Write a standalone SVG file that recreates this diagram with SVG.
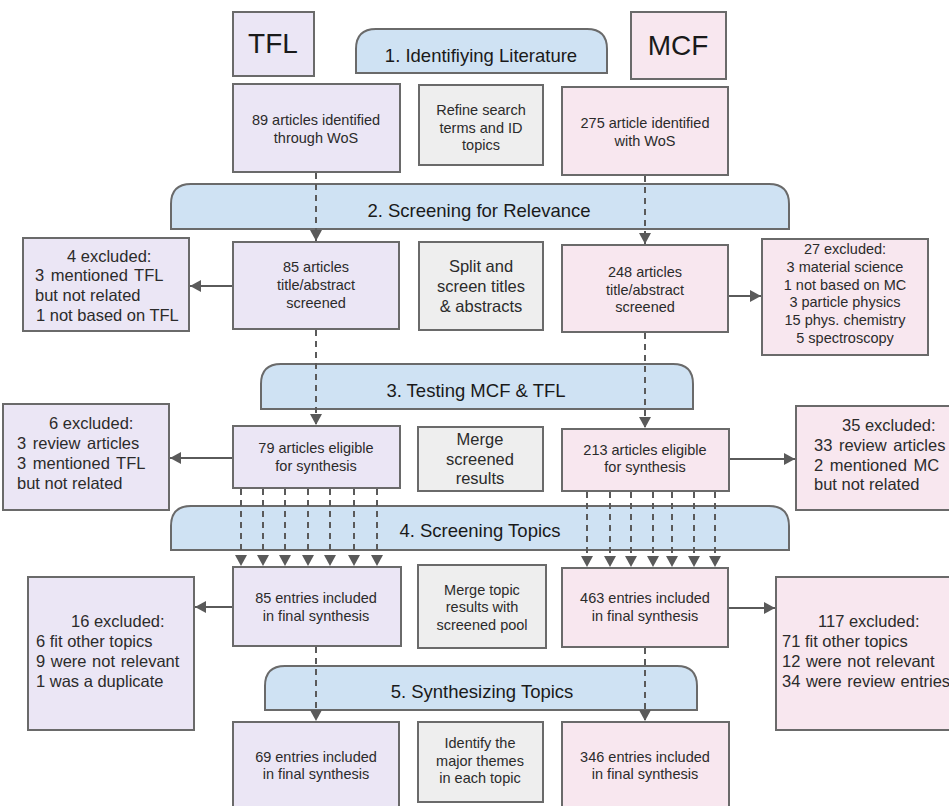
<svg xmlns="http://www.w3.org/2000/svg" width="949" height="806" viewBox="0 0 949 806">
<style>
text{font-family:"Liberation Sans",Arial,sans-serif;fill:#2b2b2b}
.box{stroke:#6a6a6a;stroke-width:2}
.tfl{fill:#ebe6f5}
.mcf{fill:#f8e7ef}
.mid{fill:#eeeeee}
.ban{fill:#cfe2f3;stroke:#6a6a6a;stroke-width:2}
.bt{font-size:18.5px;text-anchor:middle;fill:#1a1a1a}
.c{text-anchor:middle;font-size:14.5px}
.m{text-anchor:middle;font-size:16.5px}
.x{font-size:16.5px}
.xs{font-size:14.5px;text-anchor:middle}
.ti{font-size:28px;text-anchor:middle;fill:#1a1a1a}
.d{stroke:#5a5a5a;stroke-width:2;stroke-dasharray:6 5;fill:none}
.s{stroke:#5a5a5a;stroke-width:2;fill:none}
</style>
<defs>
<marker id="ah" markerUnits="userSpaceOnUse" markerWidth="11" markerHeight="12" viewBox="0 0 11 12" refX="11" refY="6" orient="auto">
<path d="M0,0 L11,6 L0,12 z" fill="#5a5a5a"/>
</marker>
</defs>
<rect width="949" height="806" fill="#ffffff"/>

<g id="stage1"><path class="ban" d="M356,73 V49 Q356,29 376,29 H587 Q607,29 607,49 V73 Z"/><text class="bt" x="481" y="62">1. Identifiying Literature</text></g>
<g id="stage2"><path class="ban" d="M171,229 V204 Q171,184 191,184 H769 Q789,184 789,204 V229 Z"/><text class="bt" x="479" y="217">2. Screening for Relevance</text></g>
<g id="stage3"><path class="ban" d="M261,409 V384 Q261,364 281,364 H673 Q693,364 693,384 V409 Z"/><text class="bt" x="476" y="397">3. Testing MCF &amp; TFL</text></g>
<g id="stage4"><path class="ban" d="M171,550 V526 Q171,506 191,506 H769 Q789,506 789,526 V550 Z"/><text class="bt" x="480" y="537">4. Screening Topics</text></g>
<g id="stage5"><path class="ban" d="M265,710 V686 Q265,666 285,666 H677 Q697,666 697,686 V710 Z"/><text class="bt" x="482" y="698">5. Synthesizing Topics</text></g>

<g id="tfl-title"><rect class="box tfl" x="233" y="12" width="81" height="64"/><text class="ti" x="273" y="53">TFL</text></g>
<g id="mcf-title"><rect class="box mcf" x="631" y="12" width="95" height="67"/><text class="ti" x="678" y="55">MCF</text></g>

<g id="tfl1"><rect class="box tfl" x="233" y="84" width="167" height="88"/><text class="c" x="316" y="125">89 articles identified</text><text class="c" x="316" y="143">through WoS</text></g>
<g id="mid1"><rect class="box mid" x="419" y="85" width="124" height="80"/><text class="c" x="481" y="115">Refine search</text><text class="c" x="481" y="133">terms and ID</text><text class="c" x="481" y="150">topics</text></g>
<g id="mcf1"><rect class="box mcf" x="562" y="87" width="166" height="88"/><text class="c" x="645" y="128">275 article identified</text><text class="c" x="645" y="146">with WoS</text></g>

<g id="tfl-ex2"><rect class="box tfl" x="23" y="238" width="166" height="93"/><text class="x" x="67" y="262">4 excluded:</text><text class="x" x="35" y="281" word-spacing="2">3 mentioned TFL</text><text class="x" x="35" y="301">but not related</text><text class="x" x="36" y="321">1 not based on TFL</text></g>
<g id="tfl2"><rect class="box tfl" x="233" y="242" width="166" height="87"/><text class="c" x="316" y="272">85 articles</text><text class="c" x="316" y="290">title/abstract</text><text class="c" x="316" y="308">screened</text></g>
<g id="mid2"><rect class="box mid" x="419" y="242" width="124" height="88"/><text class="m" x="481" y="272">Split and</text><text class="m" x="481" y="292">screen titles</text><text class="m" x="481" y="312">&amp; abstracts</text></g>
<g id="mcf2"><rect class="box mcf" x="562" y="245" width="166" height="87"/><text class="c" x="645" y="277">248 articles</text><text class="c" x="645" y="295">title/abstract</text><text class="c" x="645" y="312">screened</text></g>
<g id="mcf-ex2"><rect class="box mcf" x="762" y="239" width="166" height="116"/><text class="xs" x="845" y="254">27 excluded:</text><text class="xs" x="845" y="272">3 material science</text><text class="xs" x="845" y="290">1 not based on MC</text><text class="xs" x="845" y="307">3 particle physics</text><text class="xs" x="845" y="325">15 phys. chemistry</text><text class="xs" x="845" y="343">5 spectroscopy</text></g>

<g id="tfl-ex3"><rect class="box tfl" x="3" y="404" width="166" height="106"/><text class="x" x="49" y="429">6 excluded:</text><text class="x" x="17" y="449" word-spacing="2">3 review articles</text><text class="x" x="17" y="469" word-spacing="2">3 mentioned TFL</text><text class="x" x="17" y="489">but not related</text></g>
<g id="tfl3"><rect class="box tfl" x="233" y="426" width="167" height="62"/><text class="c" x="316" y="453">79 articles eligible</text><text class="c" x="316" y="471">for synthesis</text></g>
<g id="mid3"><rect class="box mid" x="418" y="427" width="125" height="64"/><text class="m" x="480" y="445">Merge</text><text class="m" x="480" y="465">screened</text><text class="m" x="480" y="484">results</text></g>
<g id="mcf3"><rect class="box mcf" x="562" y="429" width="167" height="62"/><text class="c" x="645" y="455">213 articles eligible</text><text class="c" x="645" y="472">for synthesis</text></g>
<g id="mcf-ex3"><rect class="box mcf" x="796" y="406" width="160" height="104"/><text class="x" x="842" y="431">35 excluded:</text><text class="x" x="814" y="451" word-spacing="2">33 review articles</text><text class="x" x="814" y="471" word-spacing="2">2 mentioned MC</text><text class="x" x="814" y="490">but not related</text></g>

<g id="tfl-ex4"><rect class="box tfl" x="28" y="577" width="166" height="153"/><text class="x" x="71" y="627">16 excluded:</text><text class="x" x="36" y="647">6 fit other topics</text><text class="x" x="36" y="667" word-spacing="1">9 were not relevant</text><text class="x" x="36" y="687">1 was a duplicate</text></g>
<g id="tfl4"><rect class="box tfl" x="233" y="567" width="168" height="79"/><text class="c" x="316" y="603">85 entries included</text><text class="c" x="316" y="621">in final synthesis</text></g>
<g id="mid4"><rect class="box mid" x="418" y="565" width="128" height="83"/><text class="c" x="482" y="595">Merge topic</text><text class="c" x="482" y="612">results with</text><text class="c" x="482" y="630">screened pool</text></g>
<g id="mcf4"><rect class="box mcf" x="562" y="568" width="166" height="79"/><text class="c" x="645" y="603">463 entries included</text><text class="c" x="645" y="621">in final synthesis</text></g>
<g id="mcf-ex4"><rect class="box mcf" x="776" y="577" width="180" height="153"/><text class="x" x="818" y="627">117 excluded:</text><text class="x" x="782" y="647">71 fit other topics</text><text class="x" x="782" y="667" word-spacing="1">12 were not relevant</text><text class="x" x="782" y="687" word-spacing="1">34 were review entries</text></g>

<g id="tfl5"><rect class="box tfl" x="233" y="722" width="166" height="90"/><text class="c" x="316" y="762">69 entries included</text><text class="c" x="316" y="779">in final synthesis</text></g>
<g id="mid5"><rect class="box mid" x="418" y="722" width="125" height="80"/><text class="c" x="480" y="748">Identify the</text><text class="c" x="480" y="766">major themes</text><text class="c" x="480" y="783">in each topic</text></g>
<g id="mcf5"><rect class="box mcf" x="562" y="722" width="167" height="90"/><text class="c" x="645" y="762">346 entries included</text><text class="c" x="645" y="779">in final synthesis</text></g>

<g id="connectors" marker-end="url(#ah)">
<line class="d" x1="316" y1="173" x2="316" y2="241" marker-end="url(#ah)"/>
<line class="d" x1="645" y1="176" x2="645" y2="244" marker-end="url(#ah)"/>
<line class="d" x1="316" y1="330" x2="316" y2="425" marker-end="url(#ah)"/>
<line class="d" x1="645" y1="333" x2="645" y2="428" marker-end="url(#ah)"/>
<line class="d" x1="241" y1="489" x2="241" y2="566" marker-end="url(#ah)"/>
<line class="d" x1="263" y1="489" x2="263" y2="566" marker-end="url(#ah)"/>
<line class="d" x1="285" y1="489" x2="285" y2="566" marker-end="url(#ah)"/>
<line class="d" x1="308" y1="489" x2="308" y2="566" marker-end="url(#ah)"/>
<line class="d" x1="330" y1="489" x2="330" y2="566" marker-end="url(#ah)"/>
<line class="d" x1="354" y1="489" x2="354" y2="566" marker-end="url(#ah)"/>
<line class="d" x1="377" y1="489" x2="377" y2="566" marker-end="url(#ah)"/>
<line class="d" x1="587" y1="492" x2="587" y2="567" marker-end="url(#ah)"/>
<line class="d" x1="610" y1="492" x2="610" y2="567" marker-end="url(#ah)"/>
<line class="d" x1="631" y1="492" x2="631" y2="567" marker-end="url(#ah)"/>
<line class="d" x1="653" y1="492" x2="653" y2="567" marker-end="url(#ah)"/>
<line class="d" x1="672" y1="492" x2="672" y2="567" marker-end="url(#ah)"/>
<line class="d" x1="694" y1="492" x2="694" y2="567" marker-end="url(#ah)"/>
<line class="d" x1="715" y1="492" x2="715" y2="567" marker-end="url(#ah)"/>
<line class="d" x1="316" y1="647" x2="316" y2="721" marker-end="url(#ah)"/>
<line class="d" x1="645" y1="648" x2="645" y2="721" marker-end="url(#ah)"/>
<line class="s" x1="232" y1="286" x2="190" y2="286" marker-end="url(#ah)"/>
<line class="s" x1="729" y1="296" x2="761" y2="296" marker-end="url(#ah)"/>
<line class="s" x1="232" y1="458" x2="170" y2="458" marker-end="url(#ah)"/>
<line class="s" x1="730" y1="459" x2="795" y2="459" marker-end="url(#ah)"/>
<line class="s" x1="232" y1="607" x2="195" y2="607" marker-end="url(#ah)"/>
<line class="s" x1="729" y1="608" x2="775" y2="608" marker-end="url(#ah)"/>
</g>
</svg>
